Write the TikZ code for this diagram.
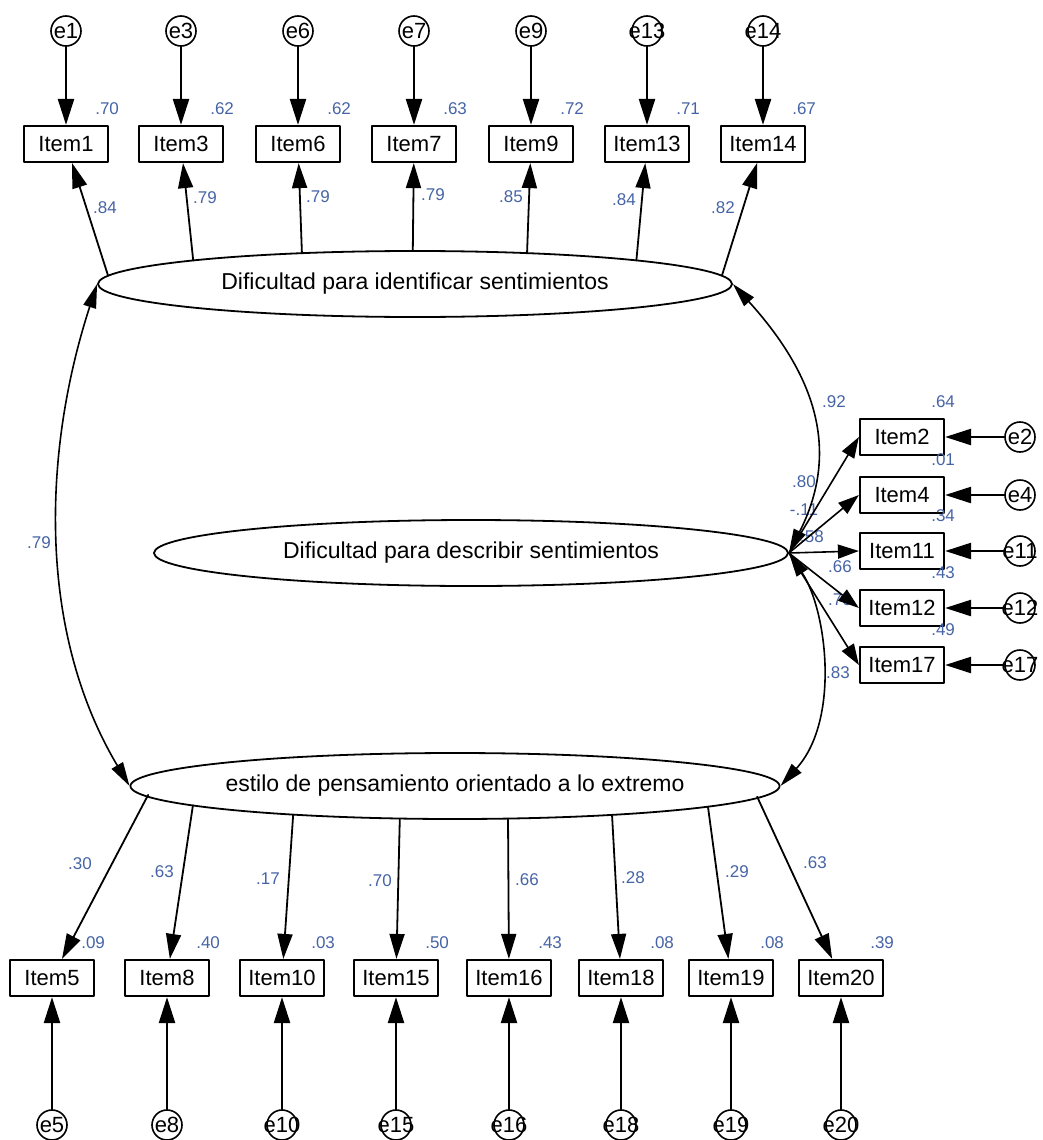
\documentclass[tikz,border=0pt]{standalone}
\usepackage{fontspec}
\setmainfont{Liberation Sans}
\usetikzlibrary{arrows.meta,calc,shapes.geometric,positioning}

\definecolor{coefblue}{RGB}{70,100,165}

\begin{document}
\begin{tikzpicture}[x=1pt, y=-1pt, line cap=round, line join=round]
    \useasboundingbox (0,0) rectangle (1043,1140);

    \tikzset{
        item/.style={draw=black, fill=white, line width=2.2pt, minimum width=84pt, minimum height=36pt, inner sep=0pt, font=\fontsize{22}{24}\selectfont},
        latent/.style={ellipse, draw=black, line width=1.8pt, minimum width=634pt, minimum height=66pt, inner sep=0pt, font=\fontsize{23}{26}\selectfont},
        err/.style={circle, draw=black, fill=white, line width=1.6pt, minimum size=30pt, inner sep=0pt, font=\fontsize{22}{24}\selectfont},
        coef/.style={text=coefblue, inner sep=0pt, font=\fontsize{17}{18}\selectfont},
        rsq/.style={coef, anchor=base},
        load/.style={-{Triangle[length=25pt,width=15pt]}, line width=1.8pt},
        rload/.style={-{Triangle[length=21pt,width=14pt]}, line width=1.6pt},
        errload/.style={-{Triangle[length=26pt,width=16pt]}, line width=2.4pt},
        cov/.style={{Triangle[length=24pt,width=13pt]}-{Triangle[length=24pt,width=13pt]}, line width=1.6pt}
    }

    % Latent factors
    \node[latent] (F1) at (415,284) {Dificultad para identificar sentimientos};
    \node[latent] (F2) at (471,553) {Dificultad para describir sentimientos};
    \node[latent] (F3) at (455,786) {estilo de pensamiento orientado a lo extremo};

    % Loadings and correlations
    \foreach \v/\x/\y [count=\i] in {.84/105/208, .79/205/198, .79/318/197, .79/433/195, .85/511/197, .84/624/200, .82/723/208} {
        \node[coef] (lt\i) at (\x,\y) {\v};
    }
    \foreach \v/\x/\y [count=\i] in {.80/804/482, -.11/804/510, .58/812/537, .66/840/567, .70/840/600} {
        \node[coef] (lr\i) at (\x,\y) {\v};
    }
    \foreach \v/\x/\y [count=\i] in {.30/80/864, .63/162/872, .17/268/879, .70/380/881, .66/527/880, .28/633/878, .29/737/872, .63/815/863} {
        \node[coef] (lb\i) at (\x,\y) {\v};
    }
    \node[coef] (c13) at (39,543) {.79};
    \node[coef] (c12) at (834,402) {.92};
    \node[coef] (c23) at (838,673) {.83};

    % Top indicators (\p: point on the ellipse)
    \foreach \n/\x/\rs/\p in {1/66/.70/165.5, 3/181/.62/134.4, 6/298/.62/110.9, 7/414/.63/90.4, 9/531/.72/69.3, 13/647/.71/45.7, 14/763/.67/14.5} {
        \node[item] (I\n) at (\x,144) {Item\n};
        \node[err] (e\n) at (\x,31) {\makebox[0pt]{e\n}};
        \node[rsq] (r\n) at ($(I\n.north east)+(-2,-10)$) {\rs};
        \coordinate (s\n) at ($(F1.center)+({317*cos(\p)},{-33*sin(\p)})$);
        \draw[errload] (e\n) -- (I\n);
        \draw[load] (s\n) -- (I\n);
    }

    % Right indicators
    \foreach \n/\y/\rs in {2/437/.64, 4/495/.01, 11/551/.34, 12/608/.43, 17/665/.49} {
        \node[item] (I\n) at (902,\y) {Item\n};
        \node[err] (e\n) at (1020,\y) {\makebox[0pt]{e\n}};
        \node[rsq] (r\n) at ($(I\n.north east)+(-2,-10)$) {\rs};
        \draw[errload] (e\n) -- (I\n);
        \draw[rload] (F2.east) -- (I\n.west);
    }

    % Bottom indicators
    \foreach \n/\x/\rs/\p in {5/52/.09/195.2, 8/167/.40/214.5, 10/282/.03/239.4, 15/396/.50/260, 16/509/.43/279.6, 18/621/.08/299.6, 19/731/.08/322.7, 20/841/.39/341.8} {
        \node[item] (I\n) at (\x,978) {Item\n};
        \node[err] (e\n) at (\x,1125) {\makebox[0pt]{e\n}};
        \node[rsq] (r\n) at ($(I\n.north east)+(-2,-10)$) {\rs};
        \coordinate (s\n) at ($(F3.center)+({318*cos(\p)},{-34*sin(\p)})$);
        \draw[errload] (e\n) -- (I\n);
        \draw[load] (s\n) -- (I\n);
    }

    % Covariances
    \draw[cov] (F1.west) .. controls +(-54,166) and +(-93,-156) .. (F3.west);
    \draw[cov] (F1.east) .. controls +(86,95) and +(50,-99) .. (F2.east);
    \draw[cov] (F2.east) .. controls +(38,57) and +(60,-66) .. (F3.east);
\end{tikzpicture}
\end{document}
